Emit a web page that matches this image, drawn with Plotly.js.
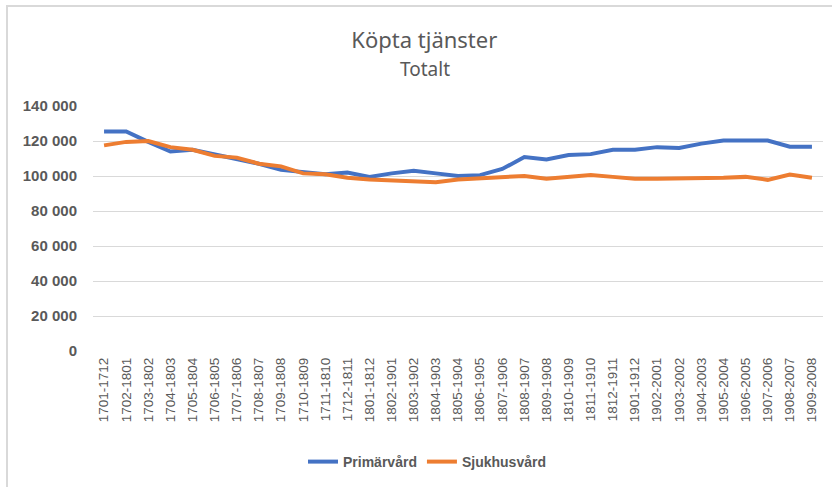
<!DOCTYPE html>
<html>
<head>
<meta charset="utf-8">
<script src="https://cdn.plot.ly/plotly-3.0.1.min.js"></script>
<style>html,body{margin:0;padding:0;background:#fff;}#chart{width:832px;height:487px;}</style>
</head>
<body>
<div id="chart"></div>
<script>
const categories = ["1701-1712","1702-1801","1703-1802","1704-1803","1705-1804","1706-1805","1707-1806","1708-1807","1709-1808","1710-1809","1711-1810","1712-1811","1801-1812","1802-1901","1803-1902","1804-1903","1805-1904","1806-1905","1807-1906","1808-1907","1809-1908","1810-1909","1811-1910","1812-1911","1901-1912","1902-2001","1903-2002","1904-2003","1905-2004","1906-2005","1907-2006","1908-2007","1909-2008"];
const primarvard = [125500,125500,119500,114000,115000,112500,109500,107000,103500,102000,101000,102000,99500,101500,103000,101500,100000,100500,104000,110800,109500,112000,112500,115000,115000,116500,116000,118500,120300,120300,120300,116700,116700];
const sjukhusvard = [117500,119500,120000,116500,115000,111500,110500,107000,105500,101500,101000,99000,98000,97500,97000,96500,98000,98500,99000,100000,98500,99500,100500,99500,98500,98500,98500,99000,99000,99500,97800,100800,99000];
const yTicks = [0,20000,40000,60000,80000,100000,120000,140000];
const seriesNames = ["Primärvård","Sjukhusvård"];
const seriesColors = ["#4472C4","#ED7D31"];

const fontFam = "Liberation Sans, Arial, sans-serif";
const traces = [primarvard, sjukhusvard].map((vals, i) => ({
  type: "scatter", mode: "lines", name: seriesNames[i],
  x: categories, y: vals,
  line: {color: seriesColors[i], width: 4}
}));

const layout = {
  width: 832, height: 487,
  margin: {l: 93, r: 9, t: 106, b: 136},
  paper_bgcolor: "#ffffff", plot_bgcolor: "#ffffff",
  separators: ", ",
  title: {text: "Köpta tjänster", font: {family: "Noto Sans, sans-serif", size: 22, color: "#595959"},
          x: 0.51, xanchor: "center", y: 0.918, yanchor: "middle", xref: "container", yref: "container"},
  annotations: [{text: "Totalt", xref: "paper", yref: "paper", x: (425-93)/730, y: (351-69)/245,
                 xanchor: "center", yanchor: "middle", showarrow: false,
                 font: {family: "Noto Sans, sans-serif", size: 19, color: "#595959"}}],
  xaxis: {type: "category", range: [-0.5, categories.length - 0.5], tickangle: -90, showgrid: false, zeroline: false, showline: false,
          ticks: "", ticklabelstandoff: 3,
          tickfont: {family: fontFam, size: 13.5, color: "#595959"}, fixedrange: true},
  yaxis: {range: [0, 140000], tickvals: yTicks, tickformat: ",d", showgrid: true, gridcolor: "#d9d9d9", gridwidth: 1,
          zeroline: false, showline: false, ticks: "", ticklabelstandoff: 15,
          tickfont: {family: fontFam, size: 15, color: "#595959", weight: "bold"}, fixedrange: true},
  showlegend: true,
  legend: {orientation: "h", x: (427-93)/730, xanchor: "center", y: (351-462)/245, yanchor: "middle",
           font: {family: fontFam, size: 14, color: "#595959", weight: "bold"}, itemwidth: 30, traceorder: "normal"},
  shapes: [{type: "rect", xref: "paper", yref: "paper", x0: (7-93)/730, x1: 1.2, y0: -0.7, y1: (351-6)/245,
            line: {color: "#d9d9d9", width: 2}, fillcolor: "rgba(0,0,0,0)", layer: "below"}]
};

Plotly.newPlot("chart", traces, layout, {displayModeBar: false, staticPlot: true});
</script>
</body>
</html>
